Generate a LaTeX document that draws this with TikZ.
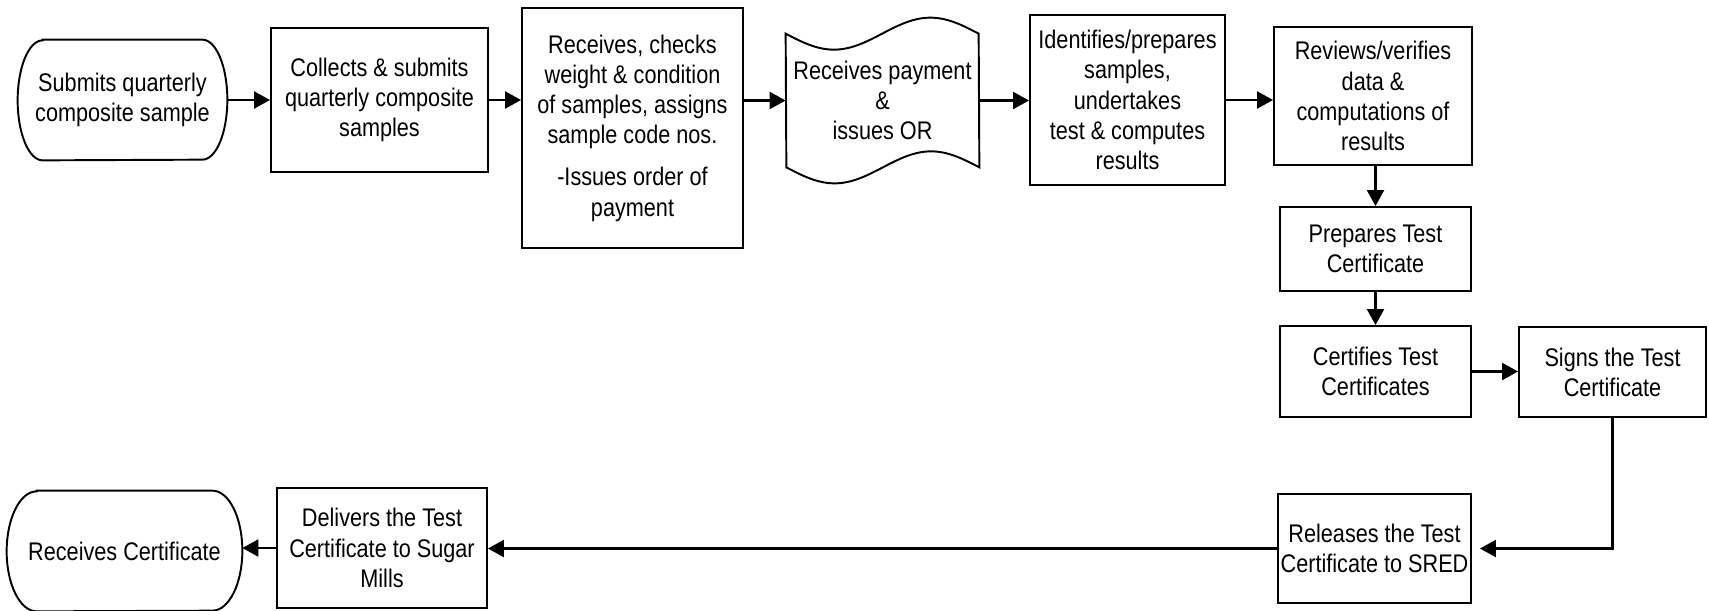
\documentclass[tikz,border=0pt]{standalone}
\usepackage{fontspec}
\setmainfont{Liberation Sans}[FakeStretch=0.85]
\usetikzlibrary{arrows.meta}

\begin{document}
\begin{tikzpicture}[
    txt/.style  = {align=center, inner sep=0.5pt, font=\fontsize{14.5}{17.2}\selectfont},
    box/.style  = {txt, draw, line width=1.1pt},
    term/.style = {txt, minimum height=2.4cm},
    lin/.style  = {line width=1.1pt},
    flow/.style = {line width=1.3pt, -{Triangle[length=0.32cm,width=0.34cm]}}
  ]
  \useasboundingbox (0,0) rectangle (34.18,-12.2);

  % top row
  \node[term, minimum width=4.18cm]                     (submit)   at ( 2.45,-2.00) {Submits quarterly\\composite sample};
  \node[box,  minimum width=4.34cm, minimum height=2.88cm] (collect)  at ( 7.59,-2.00) {Collects \& submits\\quarterly composite\\samples};
  \node[box,  minimum width=4.42cm, minimum height=4.80cm] (receive)  at (12.65,-2.56) {Receives, checks\\weight \& condition\\of samples, assigns\\sample code nos.\\[0.24cm]-Issues order of\\payment};
  \node[txt,  minimum width=3.86cm, minimum height=2.66cm] (payment)  at (17.65,-2.01) {Receives payment\\\&\\issues OR};
  \node[box,  minimum width=3.90cm, minimum height=3.40cm] (identify) at (22.55,-2.00) {Identifies/prepares\\samples,\\undertakes\\test \& computes\\results};
  \node[box,  minimum width=3.96cm, minimum height=2.76cm] (review)   at (27.46,-1.92) {Reviews/verifies\\data \&\\computations of\\results};

  % right column
  \node[box,  minimum width=3.82cm, minimum height=1.68cm] (prepare)  at (27.51,-4.98) {Prepares Test\\Certificate};
  \node[box,  minimum width=3.82cm, minimum height=1.82cm] (certify)  at (27.51,-7.43) {Certifies Test\\Certificates};
  \node[box,  minimum width=3.74cm, minimum height=1.80cm] (sign)     at (32.25,-7.44) {Signs the Test\\Certificate};

  % bottom row
  \node[box,  minimum width=3.86cm, minimum height=2.18cm] (release)  at (27.49,-10.97) {Releases the Test\\Certificate to SRED};
  \node[box,  minimum width=4.20cm, minimum height=2.40cm] (deliver)  at ( 7.64,-10.96) {Delivers the Test\\Certificate to Sugar\\Mills};
  \node[term, minimum width=4.70cm]                     (obtain)   at ( 2.49,-11.02) {Receives Certificate};

  % terminals and tape outlines
  \draw[lin] ([xshift=0.5cm]submit.north west) -- ([xshift=-0.5cm]submit.north east)
      arc[start angle=90, end angle=-90, x radius=0.5cm, y radius=1.2cm]
      -- ([xshift=0.5cm]submit.south west)
      arc[start angle=270, end angle=90, x radius=0.5cm, y radius=1.2cm] -- cycle;
  \draw[lin] ([xshift=0.6cm]obtain.north west) -- ([xshift=-0.6cm]obtain.north east)
      arc[start angle=90, end angle=-90, x radius=0.6cm, y radius=1.2cm]
      -- ([xshift=0.6cm]obtain.south west)
      arc[start angle=270, end angle=90, x radius=0.6cm, y radius=1.2cm] -- cycle;
  \draw[lin] (payment.north west) sin ++(0.965,-0.32) cos ++(0.965,0.32) sin ++(0.965,0.32) cos ++(0.965,-0.32)
      -- (payment.south east) sin ++(-0.965,0.32) cos ++(-0.965,-0.32) sin ++(-0.965,-0.32) cos ++(-0.965,0.32) -- cycle;

  % connectors
  \draw[flow] (submit.east) -- (collect.west);
  \draw[flow] (collect.east) -- (collect.east -| receive.west);
  \draw[flow] (payment.west -| receive.east) -- (payment.west);
  \draw[flow] (payment.east) -- (payment.east -| identify.west);
  \draw[flow] (identify.east) -- (identify.east -| review.west);
  \draw[flow] (review.south -| prepare.north) -- (prepare.north);
  \draw[flow] (prepare.south) -- (certify.north);
  \draw[flow] (certify.east) -- (certify.east -| sign.west);
  \draw[flow, shorten >=0.16cm] (sign.south) |- (release.east);
  \draw[flow] (release.west) -- (release.west -| deliver.east);
  \draw[flow] (deliver.west) -- (deliver.west -| obtain.east);
\end{tikzpicture}
\end{document}
